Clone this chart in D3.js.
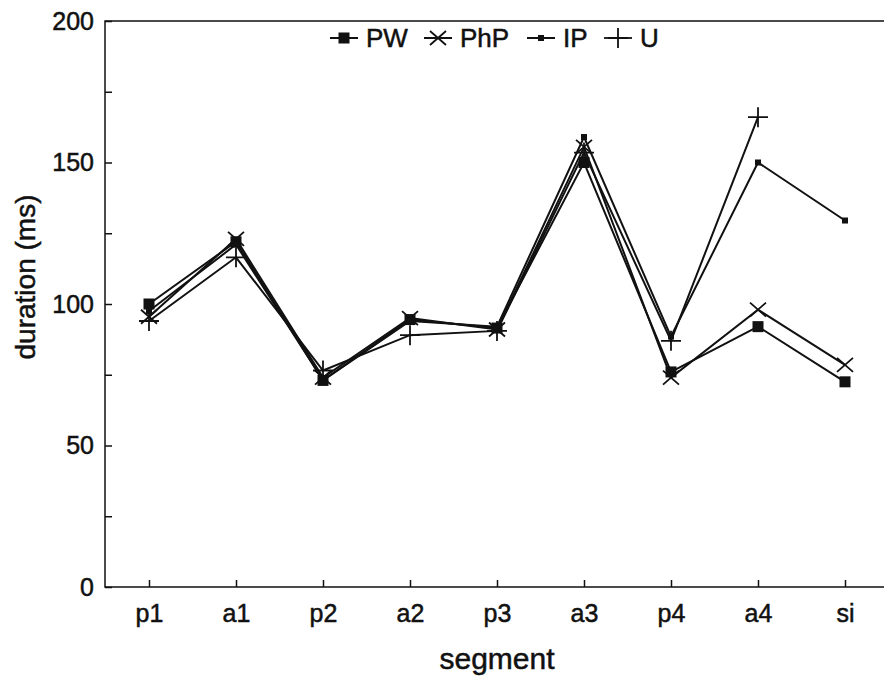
<!DOCTYPE html>
<html>
<head>
<meta charset="utf-8">
<script src="https://cdn.jsdelivr.net/npm/d3@7"></script>
<style>
  body { margin: 0; background: #fff; }
  svg { font-family: "Liberation Sans", Arial, Helvetica, sans-serif; }
  svg text { fill: #111; stroke: #111; stroke-width: 0.5px; }
  .axis text { font-size: 25px; }
  .axis line { stroke: #111; stroke-width: 1.5; }
  .frame { stroke: #111; stroke-width: 1.5; }
  .series { fill: none; stroke: #111; stroke-width: 2; }
  .graph-label { font-size: 30px; }
  .y-label { font-size: 28px; }
  .legend text { font-size: 26px; }
</style>
</head>
<body>
<svg width="886" height="678"></svg>
<script>
let segments = ['p1', 'a1', 'p2', 'a2', 'p3', 'a3', 'p4', 'a4', 'si']
let seriesNames = ['PW', 'PhP', 'IP', 'U']
let pwValues  = [100, 122, 73, 94.5, 91.5, 150, 76, 92, 72.5]
let phpValues = [95.5, 123, 74, 95, 91, 155.5, 74, 98, 78.5]
let ipValues  = [97.5, 121, 73, 94, 92, 159, 88.5, 150, 129.5]
let uValues   = [94, 116.5, 76.5, 89, 90.5, 153.5, 87, 166, null]
let yTicks = [0, 25, 50, 75, 100, 125, 150, 175, 200]
let yLabels = [0, 50, 100, 150, 200]

let markers = ['bigSquare', 'cross', 'smallSquare', 'plus']
let series = [pwValues, phpValues, ipValues, uValues]
  .map((values, i) => ({ name: seriesNames[i], values: values, marker: markers[i] }))

let svg = d3.select('svg')
let box = { left: 105, right: 884, top: 21, bottom: 587 }

let scale = {
  x: d3.scalePoint().domain(segments).range([149, 845]),
  y: d3.scaleLinear().domain([0, 200]).range([box.bottom, box.top])
}

// frame: top, left, bottom (no right side)
svg.append('path')
  .attr('class', 'frame')
  .attr('fill', 'none')
  .attr('d', `M${box.right},${box.top}H${box.left}V${box.bottom}H${box.right}`)

// X axis
svg.append('g')
  .attr('class', 'axis')
  .attr('transform', `translate(0,${box.bottom})`)
  .call(d3.axisBottom(scale.x).tickSize(-7).tickPadding(17))
  .call(g => g.select('.domain').remove())

// Y axis
svg.append('g')
  .attr('class', 'axis')
  .attr('transform', `translate(${box.left},0)`)
  .call(d3.axisLeft(scale.y).tickValues(yTicks).tickSize(-7).tickPadding(11)
    .tickFormat(d => yLabels.includes(d) ? d : ''))
  .call(g => g.select('.domain').remove())

// labels
svg.append('text')
  .attr('class', 'graph-label')
  .attr('x', 497)
  .attr('y', 669)
  .attr('text-anchor', 'middle')
  .text('segment')

svg.append('text')
  .attr('class', 'y-label')
  .attr('transform', 'translate(35,277) rotate(270)')
  .attr('text-anchor', 'middle')
  .text('duration (ms)')

function drawMarker(g, type, x, y) {
  if (type === 'bigSquare') {
    g.append('rect').attr('x', x - 5.5).attr('y', y - 5.5).attr('width', 11).attr('height', 11).attr('fill', '#111')
  } else if (type === 'smallSquare') {
    g.append('rect').attr('x', x - 3).attr('y', y - 3).attr('width', 6).attr('height', 6).attr('fill', '#111')
  } else if (type === 'cross') {
    g.append('path').attr('d', `M${x-8},${y-7}L${x+8},${y+7}M${x-8},${y+7}L${x+8},${y-7}`)
      .attr('stroke', '#111').attr('stroke-width', 1.8)
  } else if (type === 'plus') {
    g.append('path').attr('d', `M${x-10},${y}H${x+10}M${x},${y-10}V${y+10}`)
      .attr('stroke', '#111').attr('stroke-width', 1.8)
  }
}

let line = d3.line()
  .defined(d => d.value != null)
  .x(d => scale.x(d.seg))
  .y(d => scale.y(d.value))

series.forEach(s => {
  let pts = segments.map((seg, i) => ({ seg: seg, value: s.values[i] }))
  let g = svg.append('g')
  g.append('path').attr('class', 'series').attr('d', line(pts))
  pts.filter(d => d.value != null).forEach(d => drawMarker(g, s.marker, scale.x(d.seg), scale.y(d.value)))
})

// legend
let legendPos = [330, 424, 527, 604]
let legend = svg.append('g').attr('class', 'legend')
series.forEach((s, i) => {
  let x0 = legendPos[i], y0 = 38
  let g = legend.append('g')
  g.append('line').attr('x1', x0).attr('x2', x0 + 28).attr('y1', y0).attr('y2', y0)
    .attr('stroke', '#111').attr('stroke-width', s.marker === 'plus' ? 1.8 : 2)
  drawMarker(g, s.marker, x0 + 14, y0)
  g.append('text').attr('x', x0 + 36).attr('y', y0 + 9).text(s.name)
})
</script>
</body>
</html>
